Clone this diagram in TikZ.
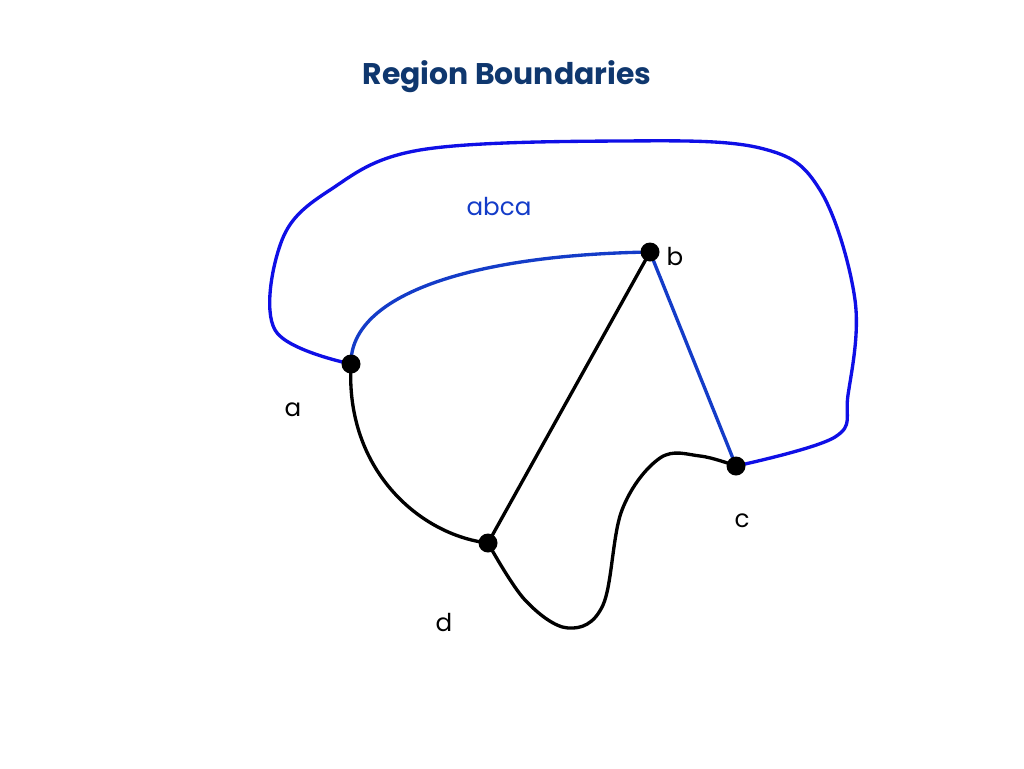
\documentclass[tikz,border=0pt]{standalone}
\usepackage{fontspec}
\setmainfont{Poppins}
\begin{document}
\begin{tikzpicture}[x=0.02cm,y=-0.02cm,
  dot/.style={circle,fill=black,inner sep=0pt,minimum size=0.38cm},
  lbl/.style={font=\fontsize{14}{16}\selectfont},
  bl/.style={line width=1.9pt,draw={rgb,255:red,20;green,60;blue,200}},
  ob/.style={line width=1.9pt,draw={rgb,255:red,15;green,15;blue,230}},
  bk/.style={line width=1.9pt,draw=black}]
\useasboundingbox (0,0) rectangle (1024,768);
\node[font=\bfseries\fontsize{17}{20}\selectfont,text={rgb,255:red,15;green,55;blue,110}] (t) at (507,77) {Region Boundaries};
\coordinate (a) at (351,364);
\coordinate (b) at (650,252);
\coordinate (c) at (736,466);
\coordinate (d) at (488,543);
\draw[bl] (a) .. controls (350,295) and (470,255) .. (b);
\draw[bl] (b) -- (c);
\draw[ob] plot[smooth,tension=0.6] coordinates {(736,466) (835,437) (848,395) (855,300) (820,190) (760,148) (620,141) (420,150) (330,190) (282,240) (275,330) (351,364)};
\draw[bk] (a) .. controls (345,470) and (420,535) .. (d);
\draw[bk] (b) -- (d);
\draw[bk] plot[smooth,tension=0.6] coordinates {(488,543) (525,600) (568,628) (603,605) (622,510) (660,458) (700,456) (736,466)};
\foreach \p in {a,b,c,d} \node[dot] (n\p) at (\p) {};
\node[lbl] (la) at (293,410) {a};
\node[lbl] (lb) at (675,257) {b};
\node[lbl] (lc) at (742,521) {c};
\node[lbl] (ld) at (444,622) {d};
\node[lbl,text={rgb,255:red,20;green,60;blue,200}] (lr) at (499,207) {abca};
\end{tikzpicture}
\end{document}
